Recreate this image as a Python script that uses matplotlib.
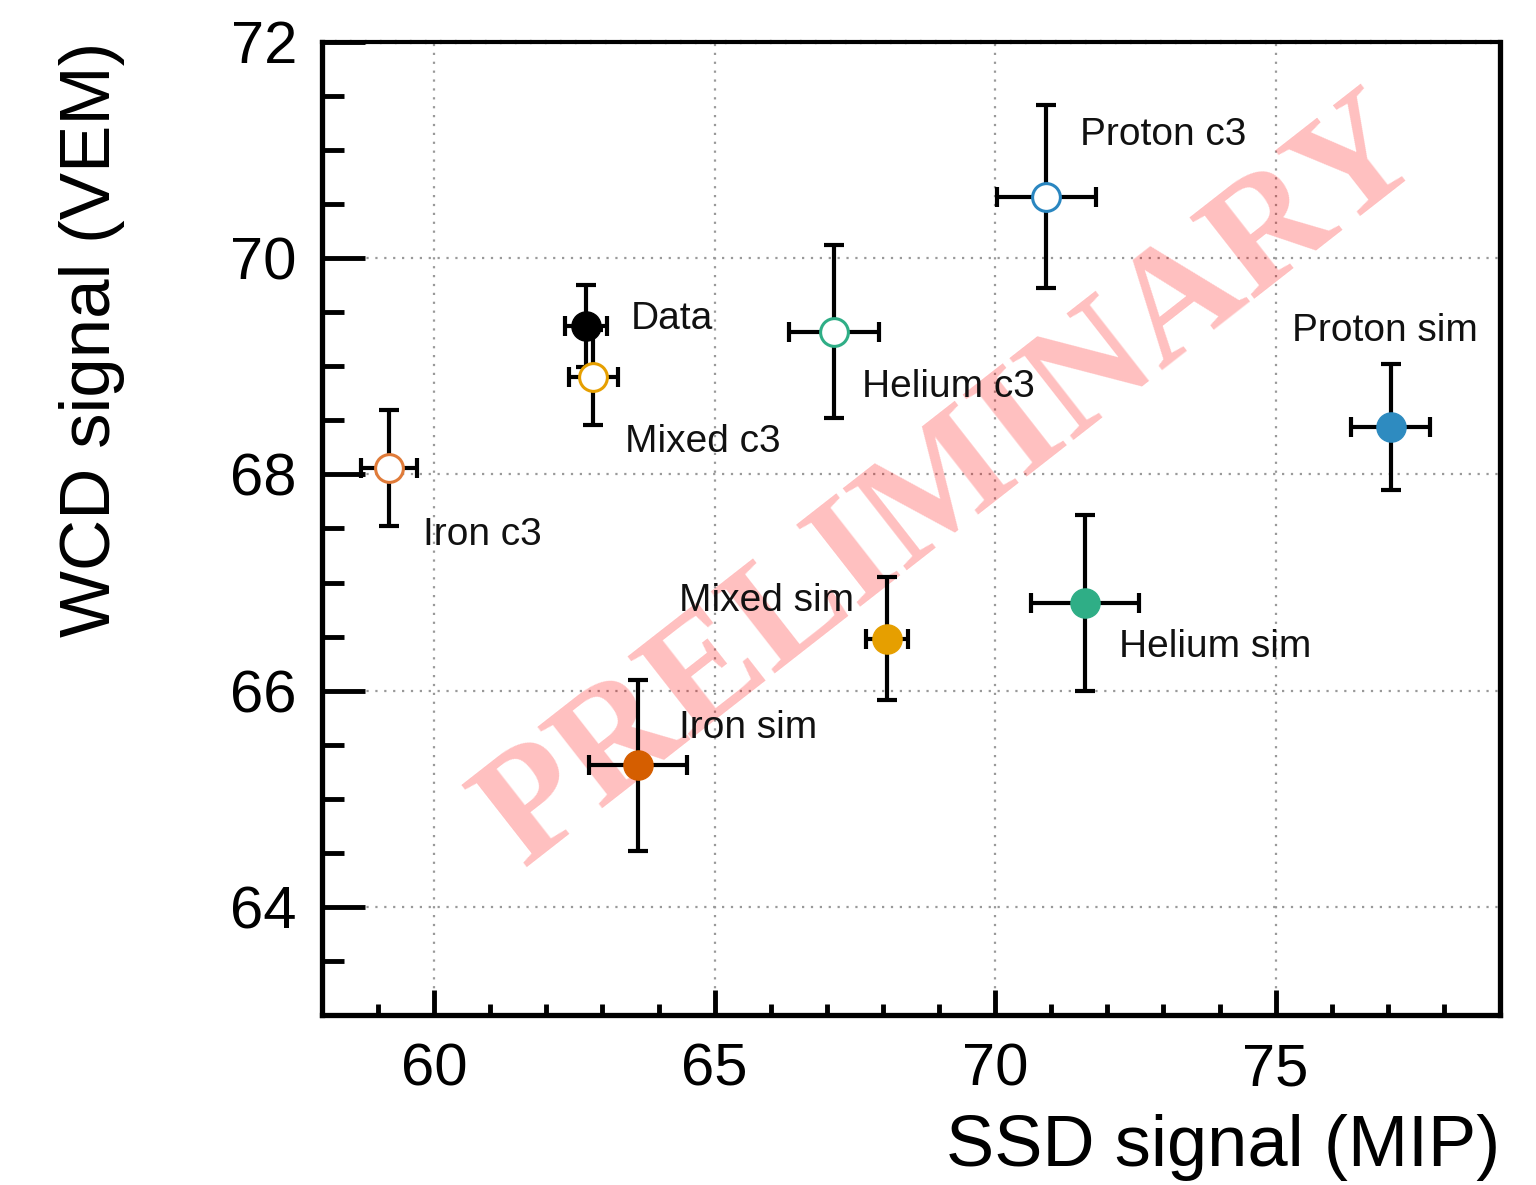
import numpy as np
import matplotlib
matplotlib.use("Agg")
import matplotlib.pyplot as plt
from matplotlib.ticker import MultipleLocator

plt.rcParams['font.family'] = ['Liberation Sans', 'DejaVu Sans']

# ---------------- data ----------------
names  = ['Data', 'Mixed c3', 'Iron c3', 'Helium c3', 'Proton c3',
          'Proton sim', 'Helium sim', 'Mixed sim', 'Iron sim']
ssd    = [62.71, 62.84, 59.20, 67.13, 70.91, 77.05, 71.60, 68.07, 63.63]
ssd_e  = [0.38, 0.44, 0.50, 0.80, 0.88, 0.71, 0.96, 0.38, 0.87]
wcd    = [69.37, 68.90, 68.06, 69.32, 70.57, 68.44, 66.81, 66.48, 65.31]
wcd_e  = [0.38, 0.44, 0.54, 0.80, 0.85, 0.58, 0.81, 0.57, 0.79]
colors = ['black', '#E69F00', '#E07B39', '#2FAE86', '#2A86C0',
          '#2E8BC0', '#2FAE86', '#E69F00', '#D55E00']
filled = [True, False, False, False, False, True, True, True, True]
label_x = [63.50, 63.41, 59.80, 67.63, 71.52, 75.29, 72.21, 64.37, 64.36]
label_y = [69.44, 68.30, 67.44, 68.81, 71.14, 69.33, 66.40, 66.83, 65.65]

fig = plt.figure(figsize=(15.36, 11.85), dpi=100)
ax = fig.add_axes([0.2096, 0.1435, 0.767, 0.8211])

for i in range(len(names)):
    ax.errorbar(ssd[i], wcd[i], xerr=ssd_e[i], yerr=wcd_e[i], fmt='none',
                ecolor='black', elinewidth=3, capsize=7, capthick=3, zorder=3)
    if filled[i]:
        ax.plot(ssd[i], wcd[i], 'o', ms=21, mfc=colors[i], mec=colors[i], zorder=4)
    else:
        ax.plot(ssd[i], wcd[i], 'o', ms=20, mfc='white', mec=colors[i], mew=2.2, zorder=4)
    ax.text(label_x[i], label_y[i], names[i], fontsize=28, ha='left', va='center',
            color='#111111', zorder=5)

# watermark
ax.text(0.535, 0.545, 'PRELIMINARY', transform=ax.transAxes, rotation=38,
        fontsize=114, fontweight='bold', family='Liberation Serif',
        color='red', alpha=0.25, ha='center', va='center', zorder=2)

ax.set_xlim(58, 79)
ax.set_ylim(63, 72)
ax.xaxis.set_major_locator(MultipleLocator(5))
ax.xaxis.set_minor_locator(MultipleLocator(1))
ax.yaxis.set_minor_locator(MultipleLocator(0.5))
ax.set_yticks([64, 66, 68, 70, 72])

ax.grid(True, which='major', linestyle=(0, (1, 3)), color='#999999', linewidth=1.6, zorder=0)
ax.set_axisbelow(True)

ax.tick_params(axis='both', which='both', direction='in', top=False, right=False,
               labelsize=43, width=3.5)
ax.tick_params(axis='x', which='major', length=18, pad=20)
ax.tick_params(axis='x', which='minor', length=8)
ax.tick_params(axis='y', which='major', length=31, pad=18)
ax.tick_params(axis='y', which='minor', length=16)

for s in ['left', 'bottom', 'right']:
    ax.spines[s].set_linewidth(3.8)
ax.spines['top'].set_linewidth(3)
ax.spines['top'].set_linestyle((0, (3, 0.6)))

ax.set_xlabel('SSD signal (MIP)', fontsize=52, loc='right', labelpad=12)
ax.set_ylabel('WCD signal (VEM)', fontsize=51, loc='top', labelpad=76)

fig.savefig('out.png', dpi=100)
